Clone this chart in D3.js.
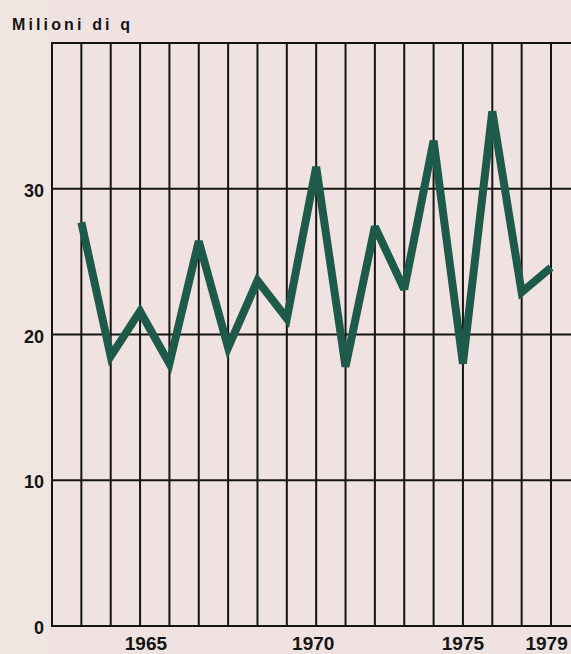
<!DOCTYPE html>
<html>
<head>
<meta charset="utf-8">
<script src="https://cdn.jsdelivr.net/npm/d3@7"></script>
<style>
	html, body { margin: 0; padding: 0; background: #efe2e1; }
	svg { display: block; }
	text { font-family: "Liberation Sans", Arial, sans-serif; font-weight: bold; fill: #141414; }
</style>
</head>
<body>
<svg id="chart"></svg>
<script>
// production, milioni di quintali, one point per year
let years = [1963, 1964, 1965, 1966, 1967, 1968, 1969, 1970, 1971,
	1972, 1973, 1974, 1975, 1976, 1977, 1978, 1979];
let values = [27.7, 18.5, 21.6, 18.0, 26.4, 19.1, 23.7, 21.1, 31.5,
	17.8, 27.4, 23.1, 33.3, 18.0, 35.3, 22.9, 24.6];

// y ticks
let yTicks = [0, 10, 20, 30];
// year labels; in the print they don't sit exactly on their year line,
// so the x spot is kept (in years)
let xLabels = ['1965', '1970', '1975', '1979'];
let xLabelAt = [1965.2, 1970.9, 1976.0, 1978.85];

let W = 571, H = 654;
let marg = { top: 43, right: 20, bottom: 28, left: 52 };

const svg = d3.select('#chart')
	.attr('width', W)
	.attr('height', H);

svg.append('rect')
	.attr('width', W).attr('height', H)
	.attr('fill', '#efe2e1');
// slightly warmer strip on the left, like the paper
svg.append('rect')
	.attr('width', marg.left - 4).attr('height', H)
	.attr('fill', '#f0e5e0');

const x = d3.scaleLinear()
	.domain([1962, 1979])
	.range([marg.left, W - marg.right]);

const y = d3.scaleLinear()
	.domain([0, 40])
	.range([H - marg.bottom, marg.top]);

// vertical year lines (1962 is the left border)
svg.append('g')
	.selectAll('line')
	.data(d3.range(1962, 1980))
	.enter()
	.append('line')
	.attr('x1', d => x(d)).attr('x2', d => x(d))
	.attr('y1', y(40)).attr('y2', y(0))
	.attr('stroke', '#141414')
	.attr('stroke-width', 2);

// horizontal lines run off the right edge
svg.append('g')
	.selectAll('line')
	.data(yTicks.concat([40]))
	.enter()
	.append('line')
	.attr('x1', x(1962) - 1).attr('x2', W)
	.attr('y1', d => y(d)).attr('y2', d => y(d))
	.attr('stroke', '#141414')
	.attr('stroke-width', 2);

// y labels
svg.append('g')
	.selectAll('text')
	.data(yTicks)
	.enter()
	.append('text')
	.attr('x', x(1962) - 8)
	.attr('y', d => y(d) + 8)
	.attr('text-anchor', 'end')
	.attr('font-size', 18)
	.text(d => d);

// x labels
svg.append('g')
	.selectAll('text')
	.data(xLabels)
	.enter()
	.append('text')
	.attr('x', (d, i) => x(xLabelAt[i]))
	.attr('y', H - 4)
	.attr('text-anchor', 'middle')
	.attr('font-size', 19)
	.text(d => d);

svg.append('text')
	.attr('x', 12)
	.attr('y', 30)
	.attr('font-size', 16)
	.attr('textLength', 118)
	.attr('lengthAdjust', 'spacing')
	.text('Milioni di q');

const line = d3.line()
	.x((d, i) => x(years[i]))
	.y(d => y(d));

svg.append('path')
	.datum(values)
	.attr('d', line)
	.attr('fill', 'none')
	.attr('stroke', '#1d5a49')
	.attr('stroke-width', 8)
	.attr('stroke-linejoin', 'miter')
	.attr('stroke-miterlimit', 3);
</script>
</body>
</html>
